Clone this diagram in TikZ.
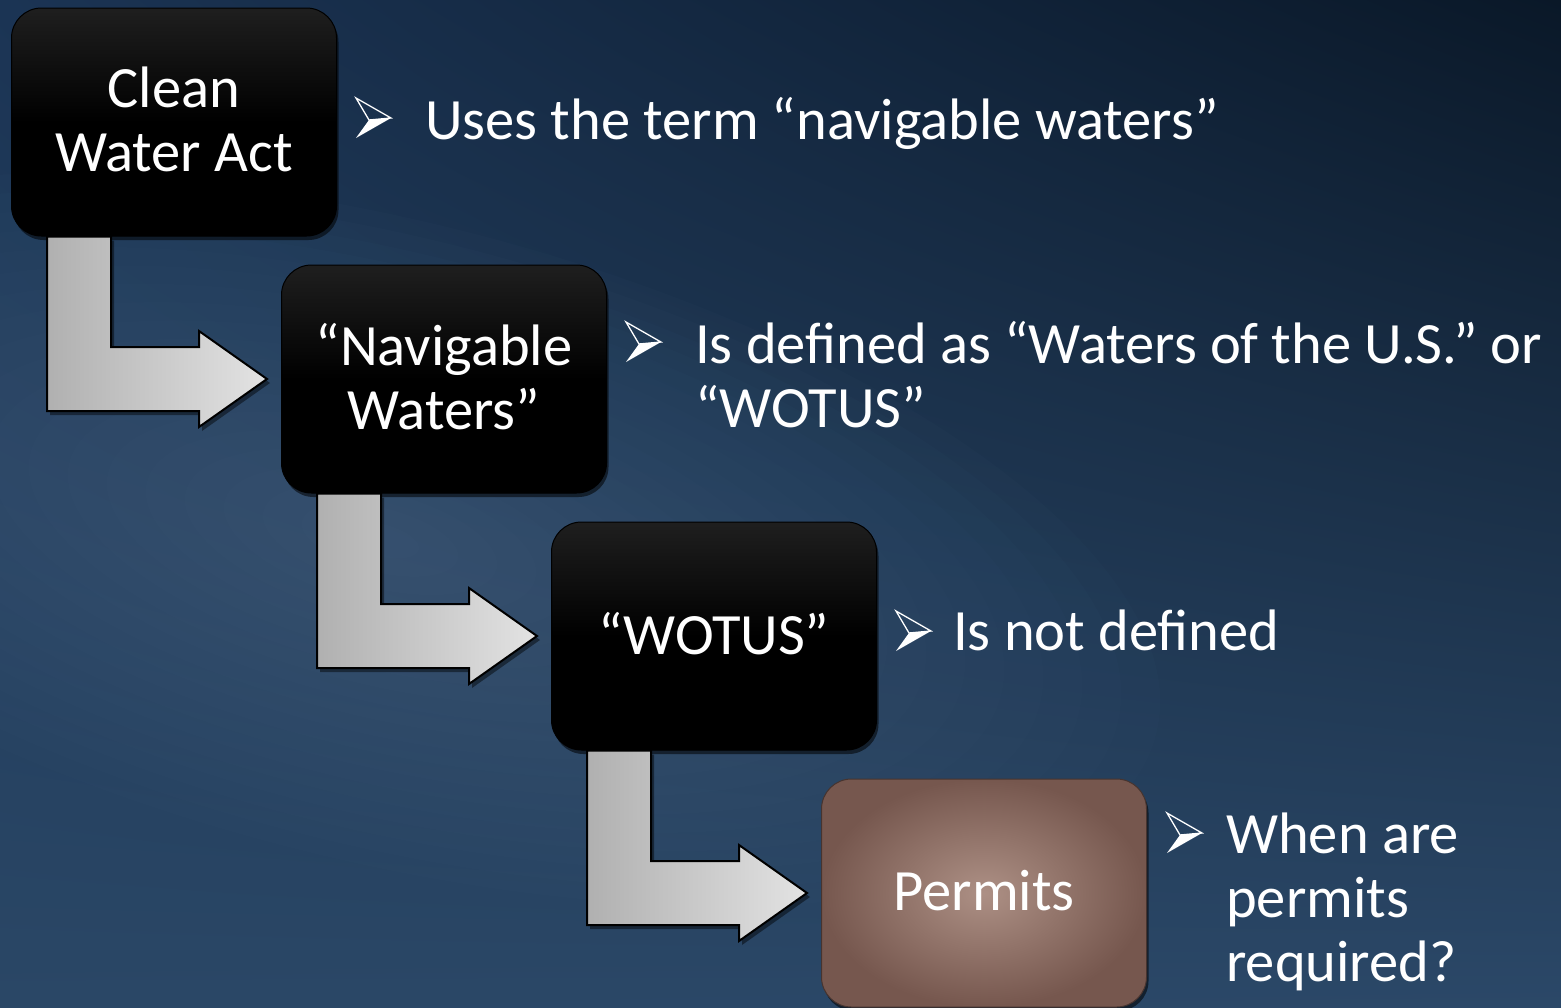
\documentclass[tikz,border=0pt]{standalone}
\usepackage{fontspec}
\setmainfont{Carlito}
\usetikzlibrary{positioning, calc, shadows, shadings}

\definecolor{bgtl}{HTML}{1B3454}
\definecolor{bgtr}{HTML}{0A1828}
\definecolor{bgbl}{HTML}{2A4766}
\definecolor{bgbr}{HTML}{2B4868}
\definecolor{bglight}{HTML}{4C6988}
\definecolor{permitin}{HTML}{AD9085}
\definecolor{permitout}{HTML}{76574E}

\tikzset{
        stepbox/.style={rounded corners=30pt, minimum width=325pt, minimum height=228pt,
                align=center, text=white, font=\fontsize{58.5}{64}\selectfont,
                text depth=6pt, line width=1pt,
                drop shadow={fill=black, opacity=0.55, shadow xshift=2pt, shadow yshift=-4pt}},
        lawbox/.style={stepbox, draw=black, top color=black!88, bottom color=black, middle color=black},
        permitbox/.style={stepbox, draw=permitout!60!black, inner color=permitin, outer color=permitout},
        bendarrow/.style={draw=black, line width=2pt, line join=miter,
                left color=gray!62, right color=gray!22,
                drop shadow={fill=black, opacity=0.45, shadow xshift=3pt, shadow yshift=-4pt}},
        bultext/.style={text=white, align=left, inner sep=0pt, font=\fontsize{58.5}{64}\selectfont},
        bul/.pic={
                \fill[white] (35,0) -- (0,20) -- (13,2) -- cycle;
                \draw[white, line width=1.3pt, line join=miter] (0,-20) -- (35,0) -- (13,2) -- cycle;
                }
        }

\begin{document}
\begin{tikzpicture}[x=1pt, y=-1pt, node distance=28pt and -56pt]
        % background
        \useasboundingbox (0,0) rectangle (1561,1007);
        \shade[upper left=bgtl, upper right=bgtr, lower left=bgbl, lower right=bgbr] (0,0) rectangle (1561,1007);
        \begin{scope}[rotate around={-14:(380,540)}]
                \foreach \r in {1,...,20}
                        \fill[bglight, opacity=0.045] (380,540) ellipse ({40*\r} and {16*\r});
        \end{scope}

        % steps
        \node[lawbox] (cwa) at (174,122) {Clean\\Water Act};
        \node[lawbox, below right=of cwa] (nav) {“Navigable\\Waters”};
        \node[lawbox, below right=of nav] (wot) {“WOTUS”};
        \node[permitbox, below right=of wot] (per) {Permits};

        % bent arrows
        \foreach \from/\to in {cwa/nav, nav/wot, wot/per}{
                \draw[bendarrow] ($(\from.south west)+(36,0)$) coordinate (s) -- ++(64,0)
                        |- ($(\to.west)+(-82,-32)$) -- ++(0,-16) -- ($(\to.west)+(-14,0)$)
                        -- ++(-68,48) -- ++(0,-16) -| (s) -- cycle;
                }

        % notes (base = last line)
        \node[bultext, anchor=base west] (t1) at (425,139) {Uses the term “navigable waters”};
        \node[bultext, anchor=base west] (t2) at (695,427) {Is defined as “Waters of the U.S.” or\\“WOTUS”};
        \node[bultext, anchor=base west] (t3) at (953,650) {Is not defined};
        \node[bultext, anchor=base west] (t4) at (1226,981) {When are\\permits\\required?};
        \pic at (356,118) {bul};
        \pic at (626,342) {bul};
        \pic at (896,631) {bul};
        \pic at (1167,833) {bul};
\end{tikzpicture}
\end{document}
